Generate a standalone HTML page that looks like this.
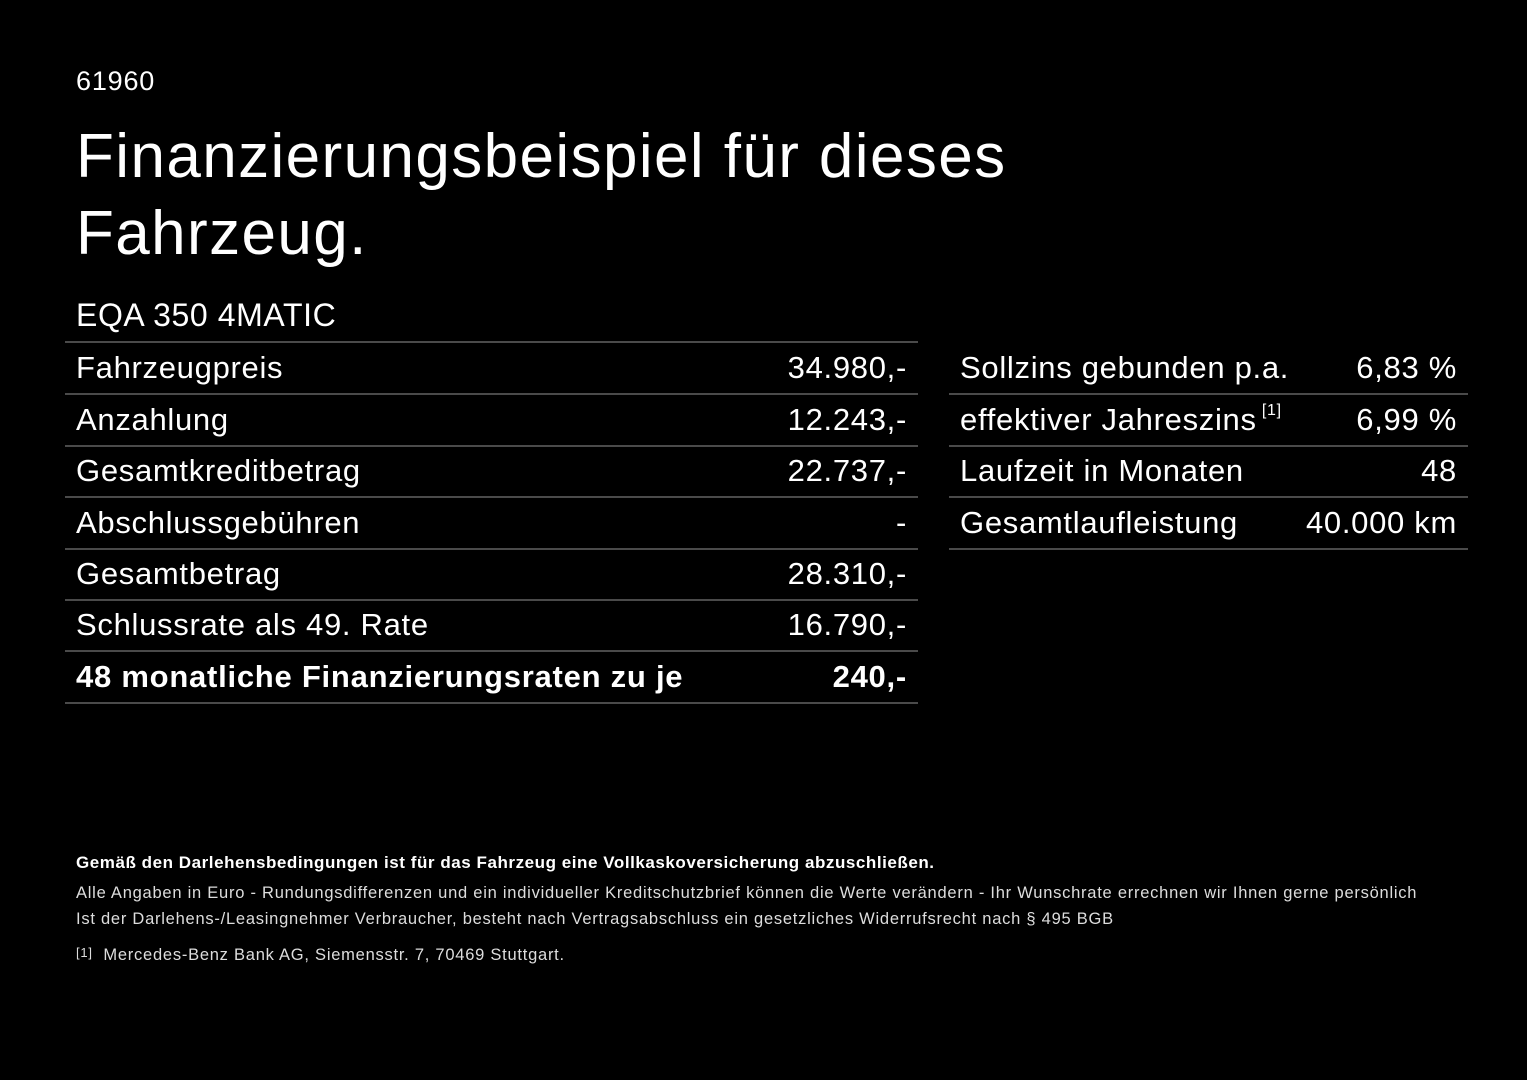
<!DOCTYPE html>
<html><head><meta charset="utf-8"><style>
body{margin:0;width:1527px;height:1080px;background:#000;color:#fff;font-family:"Liberation Sans",sans-serif;position:relative;overflow:hidden}
.a{position:absolute;white-space:nowrap}
.row{position:absolute;height:51px;border-bottom:2px solid #4a4a4a;font-size:31px;line-height:51px;letter-spacing:0.7px}
.row .l{position:absolute;left:11px}
.row .r{position:absolute;right:11px}
.f{font-size:16.5px;color:#ddd;letter-spacing:0.75px}
</style></head><body>
<div class="a" style="left:76px;top:66px;font-size:27px;letter-spacing:0.8px">61960</div>
<div class="a" style="left:76px;top:118px;font-size:62px;line-height:77px;letter-spacing:1.4px">Finanzierungsbeispiel für dieses<br>Fahrzeug.</div>
<div class="a" style="left:76px;top:297px;font-size:32px;letter-spacing:0.6px">EQA 350 4MATIC</div>
<div style="position:absolute;left:65px;top:341px;width:853px;border-top:2px solid #4a4a4a"></div>
<div class="row" style="left:65px;width:853px;top:342px"><span class="l">Fahrzeugpreis</span><span class="r">34.980,-</span></div>
<div class="row" style="left:65px;width:853px;top:394px"><span class="l">Anzahlung</span><span class="r">12.243,-</span></div>
<div class="row" style="left:65px;width:853px;top:445px"><span class="l">Gesamtkreditbetrag</span><span class="r">22.737,-</span></div>
<div class="row" style="left:65px;width:853px;top:497px"><span class="l">Abschlussgebühren</span><span class="r">-</span></div>
<div class="row" style="left:65px;width:853px;top:548px"><span class="l">Gesamtbetrag</span><span class="r">28.310,-</span></div>
<div class="row" style="left:65px;width:853px;top:599px"><span class="l">Schlussrate als 49. Rate</span><span class="r">16.790,-</span></div>
<div class="row" style="left:65px;width:853px;top:651px;font-weight:bold;letter-spacing:0.75px"><span class="l">48 monatliche Finanzierungsraten zu je</span><span class="r">240,-</span></div>
<div class="row" style="left:949px;width:519px;top:342px"><span class="l">Sollzins gebunden p.a.</span><span class="r">6,83 %</span></div>
<div class="row" style="left:949px;width:519px;top:394px"><span class="l">effektiver Jahreszins<sup style="font-size:16px;line-height:0;position:relative;top:-4px"> [1]</sup></span><span class="r">6,99 %</span></div>
<div class="row" style="left:949px;width:519px;top:445px"><span class="l">Laufzeit in Monaten</span><span class="r">48</span></div>
<div class="row" style="left:949px;width:519px;top:497px"><span class="l">Gesamtlaufleistung</span><span class="r">40.000 km</span></div>
<div class="a" style="left:76px;top:853px;font-size:17px;font-weight:bold;letter-spacing:0.55px">Gemäß den Darlehensbedingungen ist für das Fahrzeug eine Vollkaskoversicherung abzuschließen.</div>
<div class="a f" style="left:76px;top:884px">Alle Angaben in Euro - Rundungsdifferenzen und ein individueller Kreditschutzbrief können die Werte verändern - Ihr Wunschrate errechnen wir Ihnen gerne persönlich</div>
<div class="a f" style="left:76px;top:910px">Ist der Darlehens-/Leasingnehmer Verbraucher, besteht nach Vertragsabschluss ein gesetzliches Widerrufsrecht nach § 495 BGB</div>
<div class="a f" style="left:76px;top:946px"><span style="font-size:13px;position:relative;top:-3px">[1]</span>&nbsp; Mercedes-Benz Bank AG, Siemensstr. 7, 70469 Stuttgart.</div>
</body></html>
